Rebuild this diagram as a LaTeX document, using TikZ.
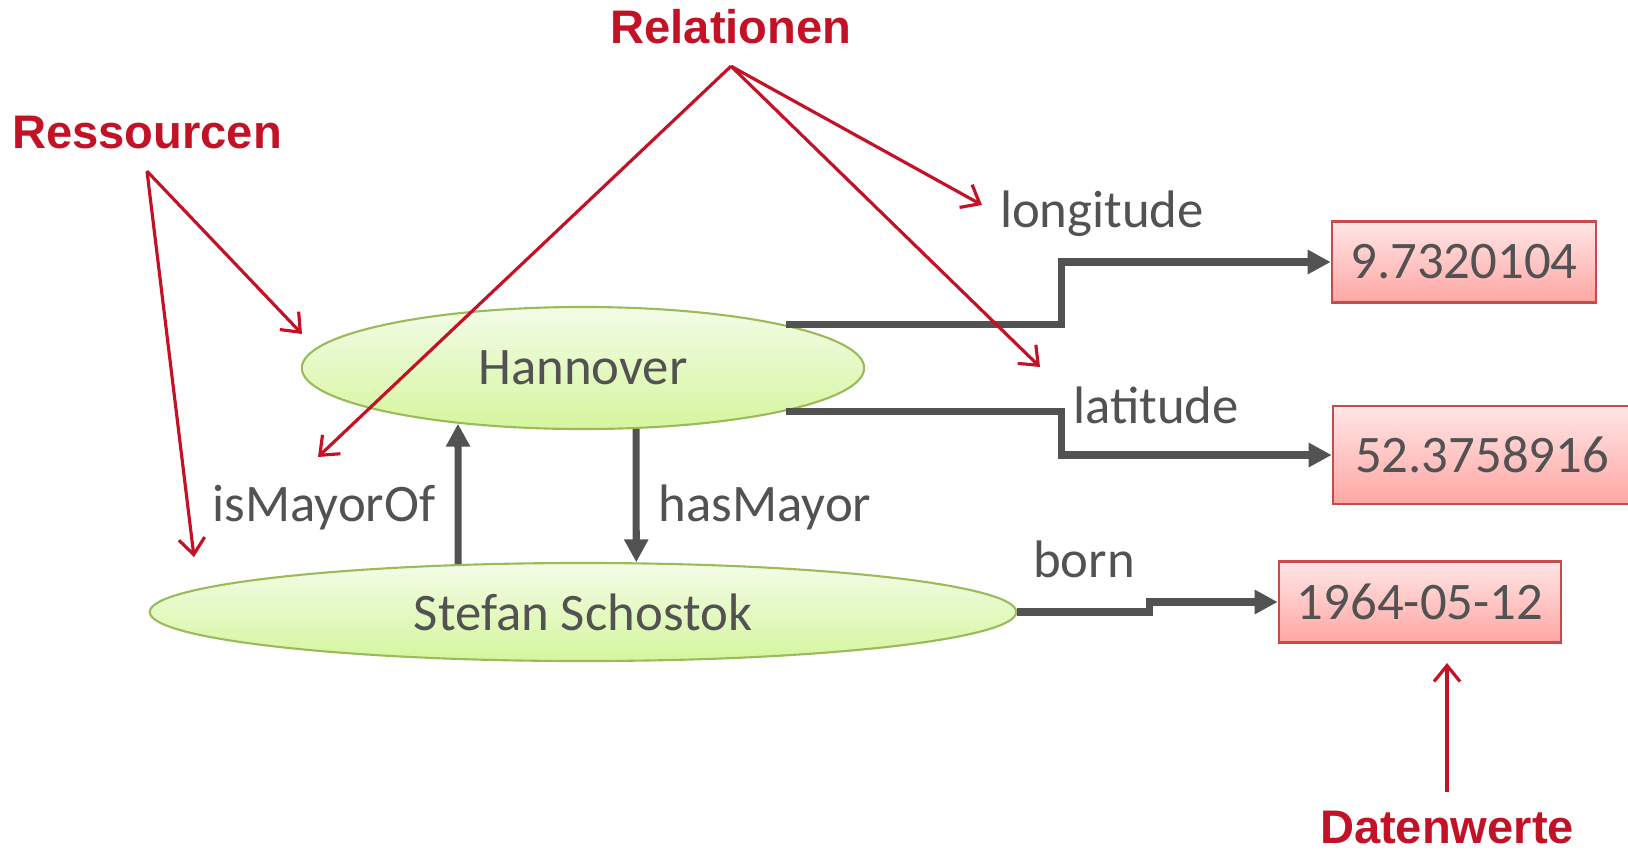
\documentclass[tikz,border=0pt]{standalone}
\usepackage{fontspec}
\setmainfont{Carlito}
\newfontfamily\headfont{Liberation Sans}
\usetikzlibrary{arrows.meta,shapes.geometric}
\definecolor{accred}{RGB}{195,17,38}
\definecolor{txtgray}{RGB}{82,82,82}
\definecolor{resline}{RGB}{155,187,89}
\definecolor{restop}{RGB}{243,252,231}
\definecolor{resbot}{RGB}{213,246,158}
\definecolor{valline}{RGB}{200,75,75}
\definecolor{valtop}{RGB}{255,230,230}
\definecolor{valbot}{RGB}{255,166,163}

\begin{document}
\begin{tikzpicture}[x=0.01cm,y=-0.01cm]
\tikzstyle{every node}=[text=txtgray, font=\fontsize{15}{18}\selectfont]
\tikzstyle{res}=[ellipse, draw=resline, line width=0.6pt, top color=restop, bottom color=resbot, inner sep=0pt]
\tikzstyle{val}=[rectangle, draw=valline, line width=0.7pt, top color=valtop, bottom color=valbot, inner sep=0pt]
\tikzstyle{lbl}=[anchor=base, inner sep=0pt]
\tikzstyle{hint}=[text=accred, font=\headfont\bfseries\fontsize{13.4}{16}\selectfont, inner sep=0.22cm]
\tikzstyle{link}=[draw=txtgray, line width=2pt, -{Triangle[length=0.23cm,width=0.23cm]}]
\tikzstyle{point}=[draw=accred, line width=0.9pt, -{Straight Barb[length=0.16cm,width=0.26cm]}]
\useasboundingbox (0,0) rectangle (1628,851);
% resources
\draw (583,368) node (hann) [res, minimum width=5.62cm, minimum height=1.22cm] {Hannover};
\draw (583,612) node (stefan) [res, minimum width=8.66cm, minimum height=0.98cm] {Stefan Schostok};
% data values
\draw (1464,262) node (vlon) [val, minimum width=2.64cm, minimum height=0.81cm] {9.7320104};
\draw (1482,455) node (vlat) [val, minimum width=2.98cm, minimum height=0.98cm] {52.3758916};
\draw (1420,602) node (vborn) [val, minimum width=2.82cm, minimum height=0.81cm] {1964-05-12};
% relation labels
\draw (1102,227) node (llon) [lbl] {longitude};
\draw (1156,423) node (llat) [lbl] {latitude};
\draw (324,521) node (lismayor) [lbl] {isMayorOf};
\draw (765,521) node (lhasmayor) [lbl] {hasMayor};
\draw (1084,577) node (lborn) [lbl] {born};
% relations
\draw[link] (hann.12.5) -- ++(276,0) |- (vlon.west);
\draw[link] (hann.-12.5) -- ++(276,0) |- (vlat.west);
\draw[link] (stefan.east) -- ++(132,0) |- (vborn.west);
\draw[link] (stefan.159.1) -- (hann.204);
\draw[link] (hann.-49.06) -- (stefan.43.09);
% annotations
\draw (731,43) node (relat) [hint, anchor=base] {Relationen};
\draw (147,148) node (ressour) [hint, anchor=base] {Ressourcen};
\draw (1447,843) node (daten) [hint, anchor=base, inner sep=0.18cm] {Datenwerte};
\coordinate (pismayor) at (318,457);
\coordinate (plon) at (982,205);
\coordinate (plat) at (1040,367);
\coordinate (phann) at (302,334);
\coordinate (pstefan) at (194,557);
\coordinate (pval) at (1447,663);
\draw[point] (relat.south) -- (pismayor);
\draw[point] (relat.south) -- (plon);
\draw[point] (relat.south) -- (plat);
\draw[point] (ressour.south) -- (phann);
\draw[point] (ressour.south) -- (pstefan);
\draw[point] (daten.north) -- (pval);
\end{tikzpicture}
\end{document}
